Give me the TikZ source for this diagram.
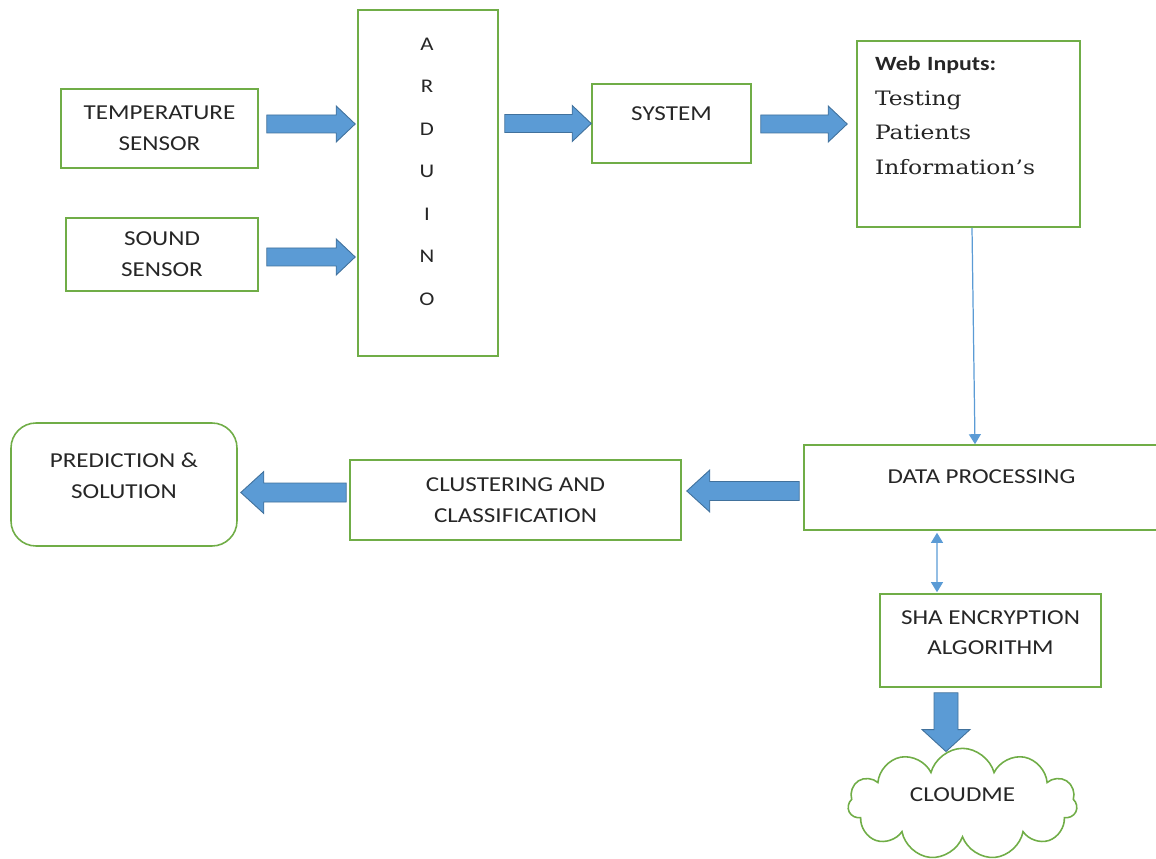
\documentclass[tikz,border=0pt]{standalone}
\usepackage{fontspec}
\setmainfont{Carlito}[FakeStretch=1.18]
\newfontfamily\webserif{DejaVu Serif}[FakeStretch=1.18]
\usepackage{tikz}
\usetikzlibrary{positioning,arrows.meta,shapes.symbols,calc}

\definecolor{boxgreen}{HTML}{70AD47}
\definecolor{arrowblue}{HTML}{5B9BD5}
\definecolor{arrowedge}{HTML}{41719C}
\definecolor{txt}{HTML}{262626}

\begin{document}
\begin{tikzpicture}[
  box/.style={rectangle, draw=boxgreen, line width=0.9pt, align=center, text=txt,
              font=\fontsize{12.1}{17.6}\selectfont},
  fat/.style n args={3}{draw=arrowedge, fill=arrowblue, line width=0.5pt, line join=miter,
    to path={let \p1=(\tikztostart), \p2=(\tikztotarget), \n1={atan2(\y2-\y1,\x2-\x1)} in
      ($(\p1)+(\n1+90:#1)$) -- ($(\p2)+(\n1+180:#3)+(\n1+90:#1)$)
      -- ($(\p2)+(\n1+180:#3)+(\n1+90:#2)$) -- (\p2)
      -- ($(\p2)+(\n1+180:#3)+(\n1-90:#2)$) -- ($(\p2)+(\n1+180:#3)+(\n1-90:#1)$)
      -- ($(\p1)+(\n1-90:#1)$) -- cycle}},
  rarrow/.style={fat={0.18cm}{0.36cm}{0.38cm}},
  larrow/.style={fat={0.19cm}{0.42cm}{0.46cm}},
  darrow/.style={fat={0.24cm}{0.48cm}{0.44cm}},
  link/.style={draw=arrowblue, line width=0.7pt, -{Triangle[length=5.7pt,width=6.8pt]}},
  bothlink/.style={link, {Triangle[length=5.7pt,width=6.8pt]}-{Triangle[length=5.7pt,width=6.8pt]}}
]
\useasboundingbox (0,0) rectangle (23.12,-17.18);

% Sensors and board
\node[box, minimum width=3.94cm, minimum height=1.58cm] (temp) at (3.19,-2.57) {TEMPERATURE\\SENSOR};
\node[box, minimum width=3.84cm, minimum height=1.46cm] (sound) at (3.24,-5.09) {SOUND\\SENSOR};
\node[box, minimum width=2.80cm, minimum height=6.92cm] (ard) at (8.56,-3.66) {};
\node[font=\fontsize{11}{24.2}\selectfont, text=txt, align=center] (ardname) at (8.54,-3.43)
  {A\\R\\D\\U\\I\\N\\O};

% System and web inputs
\node[box, minimum width=3.18cm, minimum height=1.58cm, text depth=10.8pt] (sys) at (13.43,-2.47) {SYSTEM};
\node[box, text width=3.74cm, inner xsep=0.36cm, minimum height=3.72cm, align=left, text depth=80pt,
      font=\webserif\fontsize{11.3}{19.6}\selectfont] (web) at (19.37,-2.68)
  {{\normalfont\bfseries\fontsize{11.5}{19.6}\selectfont Web Inputs:}\\Testing\\Patients\\Information’s};

% Processing chain
\node[box, minimum width=7.10cm, minimum height=1.70cm, text depth=12pt] (data) at (19.63,-9.75) {DATA PROCESSING};
\node[box, minimum width=6.62cm, minimum height=1.60cm] (clus) at (10.31,-10.0) {CLUSTERING AND\\CLASSIFICATION};
\node[box, rounded corners=0.5cm, minimum width=4.52cm, minimum height=2.46cm, text depth=10.2pt] (pred)
  at (2.48,-9.69) {PREDICTION \&\\SOLUTION};
\node[box, minimum width=4.42cm, minimum height=1.86cm, text depth=9pt] (sha) at (19.81,-12.81) {SHA ENCRYPTION\\ALGORITHM};
\node[box, cloud, cloud puffs=11, aspect=2.1, minimum width=4.58cm, minimum height=2.16cm, text depth=10.2pt] (cloud)
  at (19.25,-16.08) {CLOUDME};

% Block arrows
\draw[rarrow] ([shift={(0.16,0.09)}]temp.east) to ([shift={(-0.04,0.09)}]temp.east -| ard.west);
\draw[rarrow] ([shift={(0.16,-0.05)}]sound.east) to ([shift={(-0.04,-0.05)}]sound.east -| ard.west);
\draw[rarrow] ([xshift=0.12cm]ard.east |- sys.west) to (sys.west);
\draw[rarrow] ([shift={(0.18,-0.01)}]sys.east) to ([shift={(-0.18,-0.01)}]sys.east -| web.west);
\draw[larrow] ([shift={(-0.08,-0.07)}]data.west) to ([shift={(0.10,-0.07)}]data.west -| clus.east);
\draw[larrow] ([shift={(-0.06,0.15)}]clus.west) to ([shift={(0.06,0.15)}]clus.west -| pred.east);
\draw[darrow] ([shift={(-0.89,-0.10)}]sha.south) to ([shift={(-0.89,-0.08)}]sha.south |- cloud.north);

% Thin links
\draw[link] ([xshift=0.07cm]web.south) to ([xshift=-0.13cm]data.north);
\draw[bothlink] ([shift={(-0.89,-0.04)}]data.south) to ([shift={(-1.07,0.02)}]sha.north);

\end{tikzpicture}
\end{document}
